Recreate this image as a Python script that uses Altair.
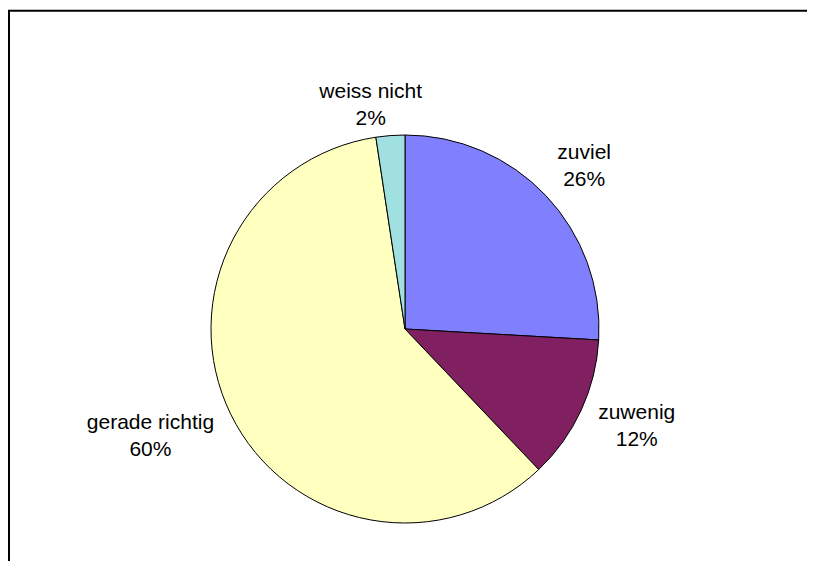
import altair as alt
import pandas as pd

# ---- data ----
categories = ["zuviel", "zuwenig", "gerade richtig", "weiss nicht"]
values = [25.9, 12.0, 59.7, 2.4]
pct_labels = ["26%", "12%", "60%", "2%"]
colors = ["#8080FF", "#802060", "#FFFFC0", "#A0E0E0"]
slice_order = [1, 2, 3, 4]

df = pd.DataFrame({
    "cat": categories,
    "value": values,
    "pct": pct_labels,
    "order": slice_order,
})
df["label"] = df["cat"] + "\n" + df["pct"]

# ---- layout ----
W, H = 799, 553
CX, CY = 397, 321      # pie centre inside the view
R = 194                # pie radius
LR = 230               # label anchor radius
# per-label pixel nudges (Excel-like label placement)
nudges = {
    "zuviel": (12, -18),
    "zuwenig": (23, -13),
    "gerade richtig": (-48, -7),
    "weiss nicht": (-17, -8),
}

base = alt.Chart(df).encode(
    theta=alt.Theta("value:Q", stack=True),
    order=alt.Order("order:Q", sort="ascending"),
)

pie = base.mark_arc(stroke="black", strokeWidth=1).encode(
    color=alt.Color("cat:N", scale=alt.Scale(domain=categories, range=colors), legend=None),
    x=alt.value(CX),
    y=alt.value(CY),
    radius=alt.value(R),
)

texts = []
for cat in categories:
    dx, dy = nudges[cat]
    t = base.mark_text(
        radius=LR, dx=dx, dy=dy, fontSize=21, font="Liberation Sans",
        lineBreak="\n", lineHeight=27, align="center", baseline="middle",
        color="black",
    ).encode(
        text=alt.condition(alt.datum.cat == cat, "label:N", alt.value("")),
        x=alt.value(CX),
        y=alt.value(CY),
    )
    texts.append(t)

frame_df = pd.DataFrame({"k": [0]})
top_line = alt.Chart(frame_df).mark_rule(color="black", strokeWidth=2).encode(
    x=alt.value(0), x2=alt.value(W), y=alt.value(2.8)
)
left_line = alt.Chart(frame_df).mark_rule(color="black", strokeWidth=2).encode(
    x=alt.value(1), y=alt.value(2), y2=alt.value(H)
)

chart = alt.layer(pie, *texts, top_line, left_line).properties(
    width=W, height=H, padding=0, autosize="none"
).configure_view(stroke=None)

chart.save("out.html", embed_options={"renderer": "svg", "actions": False})
